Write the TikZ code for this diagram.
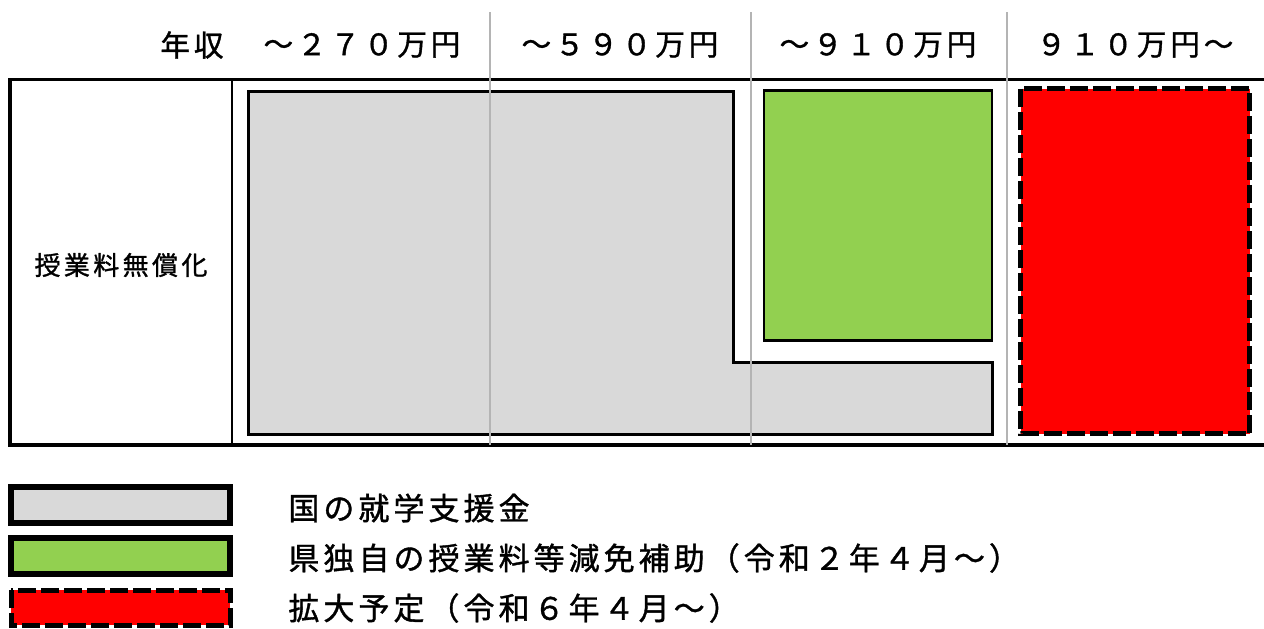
\documentclass[tikz,border=0pt]{standalone}
\usepackage{fontspec}
\newfontfamily\jpfont[LetterSpace=13,FakeBold=1.2]{Noto Sans CJK JP}
\usetikzlibrary{positioning}
\definecolor{kunigray}{HTML}{D9D9D9}
\definecolor{kengreen}{HTML}{92D050}
\definecolor{divgray}{HTML}{B4B4B4}

\begin{document}
\begin{tikzpicture}[x=0.5pt,y=-0.5pt]

% ----------------------------
% Styles
% ----------------------------
\tikzset{
	frame/.style={line width=1.75pt},
	coldiv/.style={line width=1pt},
	incdiv/.style={line width=1pt,draw=divgray},
	kuni/.style={fill=kunigray,draw=black,line width=1.5pt},
	ken/.style={fill=kengreen,draw=black,line width=1.4pt},
	kakudai/.style={fill=red,draw=black,line width=2.5pt,dash pattern=on 9pt off 2.5pt},
	legbox/.style={line width=3pt},
	headtxt/.style={inner sep=0pt,font=\jpfont\fontsize{14.8}{17}\selectfont},
	labtxt/.style={inner sep=0pt,font=\jpfont\fontsize{13}{15}\selectfont},
	legtxt/.style={inner sep=0pt,anchor=west,font=\jpfont\fontsize{15.5}{17}\selectfont}
}

\useasboundingbox (0,0) rectangle (1264,628);

% ============================================================
% Table frame
% ============================================================
\draw[frame] (1266,79.5) -- (10,79.5) -- (10,445) -- (1266,445);
\draw[coldiv] (232,79.5) -- (232,445);

% Row label
\node[labtxt] (muryo) at (121,265) {授業料無償化};

% ============================================================
% Support blocks
% ============================================================
% national support (L-shaped)
\draw[kuni] (248,91) -- (733,91) -- (733,362) -- (992,362)
	-- (992,434) -- (248,434) -- cycle;
% prefecture support
\draw[ken] (764,90.5) rectangle (992,340.5);
% planned expansion
\draw[kakudai] (1020.5,88.5) rectangle (1249.5,433.5);

% Income brackets: thin gray dividers
\foreach \x in {490,751,1007}{
	\draw[incdiv] (\x,12) -- (\x,445);
}

% Header texts
\node[headtxt] (nenshu) at (192,45) {年収};
\node[headtxt] (h270) at (362,45) {～２７０万円};
\node[headtxt] (h590) at (620,45) {～５９０万円};
\node[headtxt] (h910) at (878,45) {～９１０万円};
\node[headtxt] (h910up) at (1135,45) {９１０万円～};

% ============================================================
% Legend
% ============================================================
\draw[legbox,fill=kunigray] (11,487) rectangle (230,523);
\draw[legbox,fill=kengreen] (11,538) rectangle (230,574);
\draw[kakudai] (11,590) rectangle (230,625);

\node[legtxt] (legkuni) at (288,508) {国の就学支援金};
\node[legtxt] (legken) at (288,558) {県独自の授業料等減免補助（令和２年４月～）};
\node[legtxt] (legkaku) at (288,608) {拡大予定（令和６年４月～）};

\end{tikzpicture}
\end{document}
